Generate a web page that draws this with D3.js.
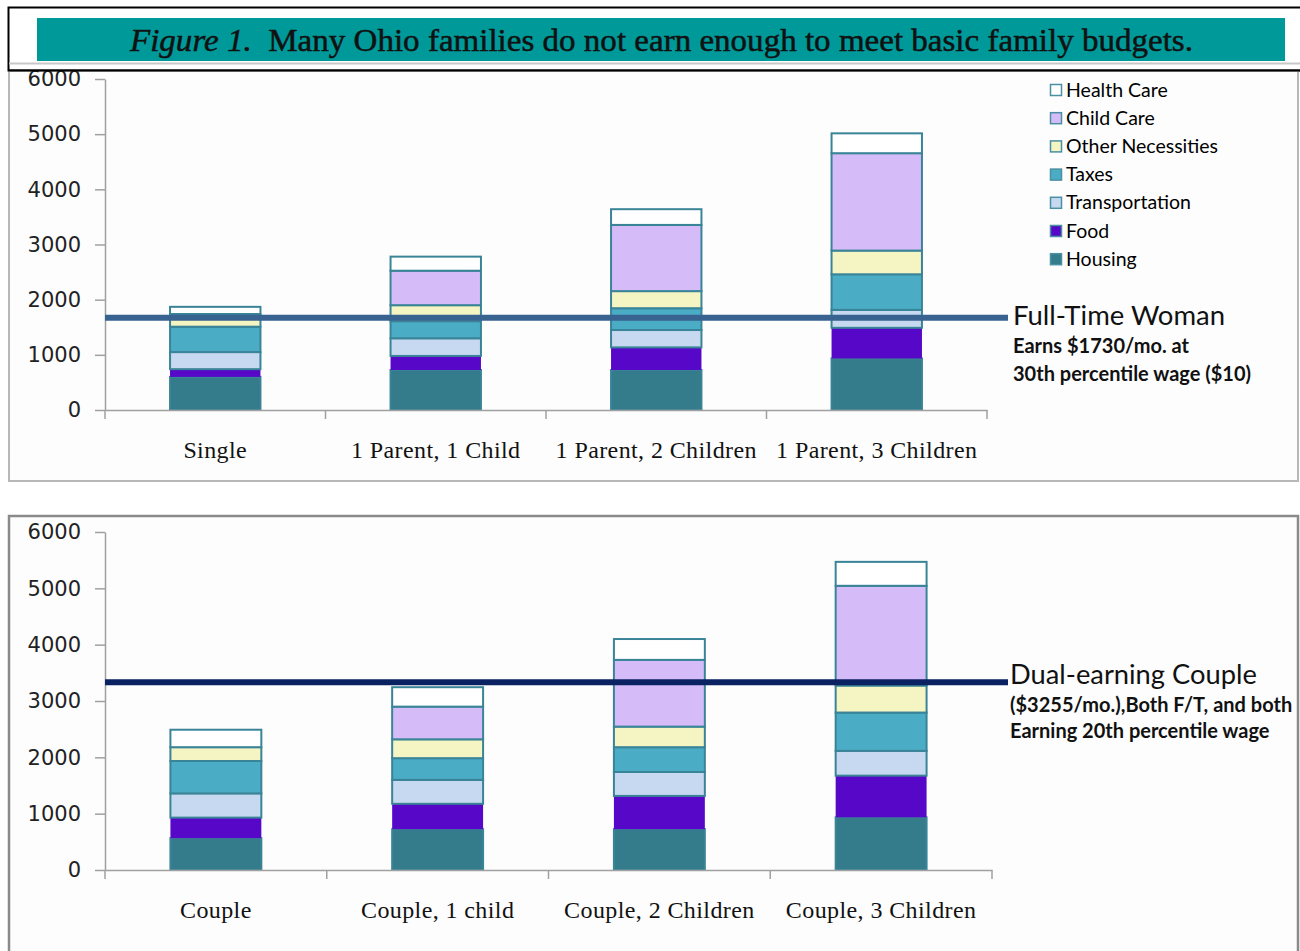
<!DOCTYPE html>
<html>
<head>
<meta charset="utf-8">
<script src="https://cdn.jsdelivr.net/npm/d3@7"></script>
<style>
  body { margin: 0; background: #fff; }
  svg { display: block; }
</style>
</head>
<body>
<svg id="fig" width="1300" height="951"></svg>
<script>
// series, bottom to top
const series = ["Housing", "Food", "Transportation", "Taxes", "Other Necessities", "Child Care", "Health Care"];
const seriesColors = ["#347B8B", "#5607C8", "#C6D9F0", "#4BACC6", "#F5F4C3", "#D5BCF9", "#FFFFFF"];
const legendOrder = ["Health Care", "Child Care", "Other Necessities", "Taxes", "Transportation", "Food", "Housing"];

const yTicks = [0, 1000, 2000, 3000, 4000, 5000, 6000];

// top chart: one parent households
const singleCats = ["Single", "1 Parent, 1 Child", "1 Parent, 2 Children", "1 Parent, 3 Children"];
const singleHousing = [600, 725, 725, 935];
const singleFood = [140, 255, 410, 555];
const singleTransport = [310, 320, 315, 325];
const singleTaxes = [460, 310, 395, 645];
const singleOther = [230, 290, 310, 430];
const singleChild = [0, 625, 1200, 1765];
const singleHealth = [130, 255, 285, 360];
const singleWage = 1670;

// bottom chart: couples
const coupleCats = ["Couple", "Couple, 1 child", "Couple, 2 Children", "Couple, 3 Children"];
const coupleHousing = [565, 725, 725, 935];
const coupleFood = [365, 450, 590, 740];
const coupleTransport = [430, 425, 425, 440];
const coupleTaxes = [575, 385, 440, 680];
const coupleOther = [245, 335, 365, 480];
const coupleChild = [0, 580, 1185, 1770];
const coupleHealth = [310, 345, 370, 425];
const coupleWage = 3335;

const svg = d3.select("#fig");
const serif = "'Liberation Serif', 'DejaVu Serif', serif";
const sans = "Lato, 'Open Sans', 'DejaVu Sans', sans-serif";

// title block
svg.append("rect").attr("x", 0).attr("y", 0).attr("width", 1300).attr("height", 951).attr("fill", "#fff");
svg.append("rect")
    .attr("x", 8.5).attr("y", 7.5).attr("width", 1300).attr("height", 63)
    .attr("fill", "#fff").attr("stroke", "#000").attr("stroke-width", 2);
svg.append("rect")
    .attr("x", 37).attr("y", 18).attr("width", 1248).attr("height", 43)
    .attr("fill", "#009999");
svg.append("line")
    .attr("x1", 9).attr("x2", 1300).attr("y1", 63.5).attr("y2", 63.5)
    .attr("stroke", "#c8c8c8").attr("stroke-width", 2);

const title = svg.append("text")
    .attr("x", 130).attr("y", 51)
    .attr("textLength", 1063)
    .attr("lengthAdjust", "spacingAndGlyphs")
    .style("font-family", serif)
    .style("font-size", "31px")
    .attr("fill", "#111")
    .attr("stroke", "#111").attr("stroke-width", 0.5);
title.append("tspan").style("font-style", "italic").text("Figure 1.");
title.append("tspan").text("\u00a0 Many Ohio families do not earn enough to meet basic family budgets.");

function drawPanel(opt) {
    const g = svg.append("g");

    g.append("rect")
        .attr("x", 9).attr("y", opt.frameTop).attr("width", 1289).attr("height", opt.frameHeight)
        .attr("fill", "#fdfdfd")
        .attr("stroke", opt.frameStroke).attr("stroke-width", opt.frameWidth);

    const x = d3.scaleBand()
        .domain(opt.cats)
        .range([105, opt.xEnd])
        .paddingInner(0.59)
        .paddingOuter(0.295);

    const y = d3.scaleLinear().domain([0, 6000]).range([opt.y0, opt.y6000]);

    const rows = opt.cats.map(function (c, i) {
        const r = {cat: c};
        series.forEach(function (s, j) { r[s] = opt.values[j][i]; });
        return r;
    });
    const stacked = d3.stack().keys(series)(rows);

    // bars
    stacked.forEach(function (layer, j) {
        g.selectAll(".seg-" + j)
            .data(layer.filter(function (d) { return d[1] - d[0] > 0; }))
            .enter().append("rect")
            .attr("class", "seg-" + j)
            .attr("x", function (d) { return x(d.data.cat); })
            .attr("width", x.bandwidth())
            .attr("y", function (d) { return y(d[1]); })
            .attr("height", function (d) { return y(d[0]) - y(d[1]); })
            .attr("fill", seriesColors[j])
            .attr("stroke", series[j] === "Food" ? "none" : "#3A8498")
            .attr("stroke-width", 2);
    });

    // y axis
    const yAxis = g.append("g")
        .attr("transform", "translate(105,0)")
        .call(d3.axisLeft(y).tickValues(yTicks).tickFormat(d3.format("d"))
            .tickSize(10).tickSizeOuter(0).tickPadding(14));
    yAxis.select(".domain").attr("stroke", "#a0a0a0").attr("stroke-width", 1.5);
    yAxis.selectAll(".tick line").attr("stroke", "#a0a0a0").attr("stroke-width", 1.5);
    yAxis.selectAll(".tick text")
        .style("font-family", "'DejaVu Sans', sans-serif")
        .style("font-size", "21px")
        .attr("fill", "#222");

    // x axis
    const xAxis = g.append("g")
        .attr("transform", "translate(0," + opt.y0 + ")")
        .call(d3.axisBottom(x).tickSize(0).tickSizeOuter(0).tickPadding(31));
    xAxis.select(".domain").attr("stroke", "#a0a0a0").attr("stroke-width", 1.5);
    xAxis.selectAll(".tick text")
        .style("font-family", serif)
        .style("font-size", "24px")
        .style("letter-spacing", "0.4px")
        .attr("fill", "#111");
    const bounds = opt.cats.map(function (c) { return x(c) - x.step() * x.paddingInner() / 2; })
        .concat([opt.xEnd]);
    xAxis.selectAll(".bound")
        .data(bounds)
        .enter().append("line")
        .attr("class", "bound")
        .attr("x1", function (d) { return d; }).attr("x2", function (d) { return d; })
        .attr("y1", 0).attr("y2", 9)
        .attr("stroke", "#a0a0a0").attr("stroke-width", 1.5);

    // wage line
    g.append("line")
        .attr("x1", 105).attr("x2", 1008)
        .attr("y1", y(opt.wage)).attr("y2", y(opt.wage))
        .attr("stroke", opt.lineColor).attr("stroke-width", 6);

    // annotation
    const ann = g.append("g").attr("transform", "translate(" + opt.annX + ",0)");
    opt.annLines.forEach(function (t, i) {
        ann.append("text")
            .attr("x", 0).attr("y", opt.annY[i])
            .style("font-family", sans)
            .style("font-size", i === 0 ? opt.annBig : opt.annSmall)
            .style("font-weight", i === 0 ? "normal" : "bold")
            .attr("fill", "#111")
            .text(t);
    });
    return g;
}

// top panel
drawPanel({
    frameTop: 71, frameHeight: 410, frameStroke: "#b8b8b8", frameWidth: 2,
    cats: singleCats, xEnd: 987, y0: 410, y6000: 79,
    values: [singleHousing, singleFood, singleTransport, singleTaxes, singleOther, singleChild, singleHealth],
    wage: singleWage, lineColor: "#38628F",
    annX: 1013, annY: [325, 353, 381], annBig: "27.5px", annSmall: "20px",
    annLines: ["Full-Time Woman", "Earns $1730/mo. at", "30th percentile wage ($10)"]
});

// bottom panel
drawPanel({
    frameTop: 516, frameHeight: 460, frameStroke: "#8a8a8a", frameWidth: 2.5,
    cats: coupleCats, xEnd: 992, y0: 870, y6000: 532,
    values: [coupleHousing, coupleFood, coupleTransport, coupleTaxes, coupleOther, coupleChild, coupleHealth],
    wage: coupleWage, lineColor: "#0A2262",
    annX: 1010, annY: [684, 712, 738], annBig: "27.3px", annSmall: "20px",
    annLines: ["Dual-earning Couple", "($3255/mo.),Both F/T, and both", "Earning 20th percentile wage"]
});

// redraw title border over top panel edge
svg.append("line")
    .attr("x1", 8).attr("x2", 1300).attr("y1", 70.5).attr("y2", 70.5)
    .attr("stroke", "#000").attr("stroke-width", 2);

// legend (top panel)
const legend = svg.append("g").attr("transform", "translate(1050,84)");
legendOrder.forEach(function (name, i) {
    const j = series.indexOf(name);
    const row = legend.append("g").attr("transform", "translate(0," + (i * 28.2) + ")");
    row.append("rect")
        .attr("x", 0.5).attr("y", 0.5).attr("width", 11).attr("height", 11)
        .attr("fill", seriesColors[j])
        .attr("stroke", "#4A90A2").attr("stroke-width", 1.5);
    row.append("text")
        .attr("x", 16).attr("y", 12.5)
        .style("font-family", sans)
        .style("font-size", "19.5px")
        .attr("fill", "#000")
        .text(name);
});
</script>
</body>
</html>
